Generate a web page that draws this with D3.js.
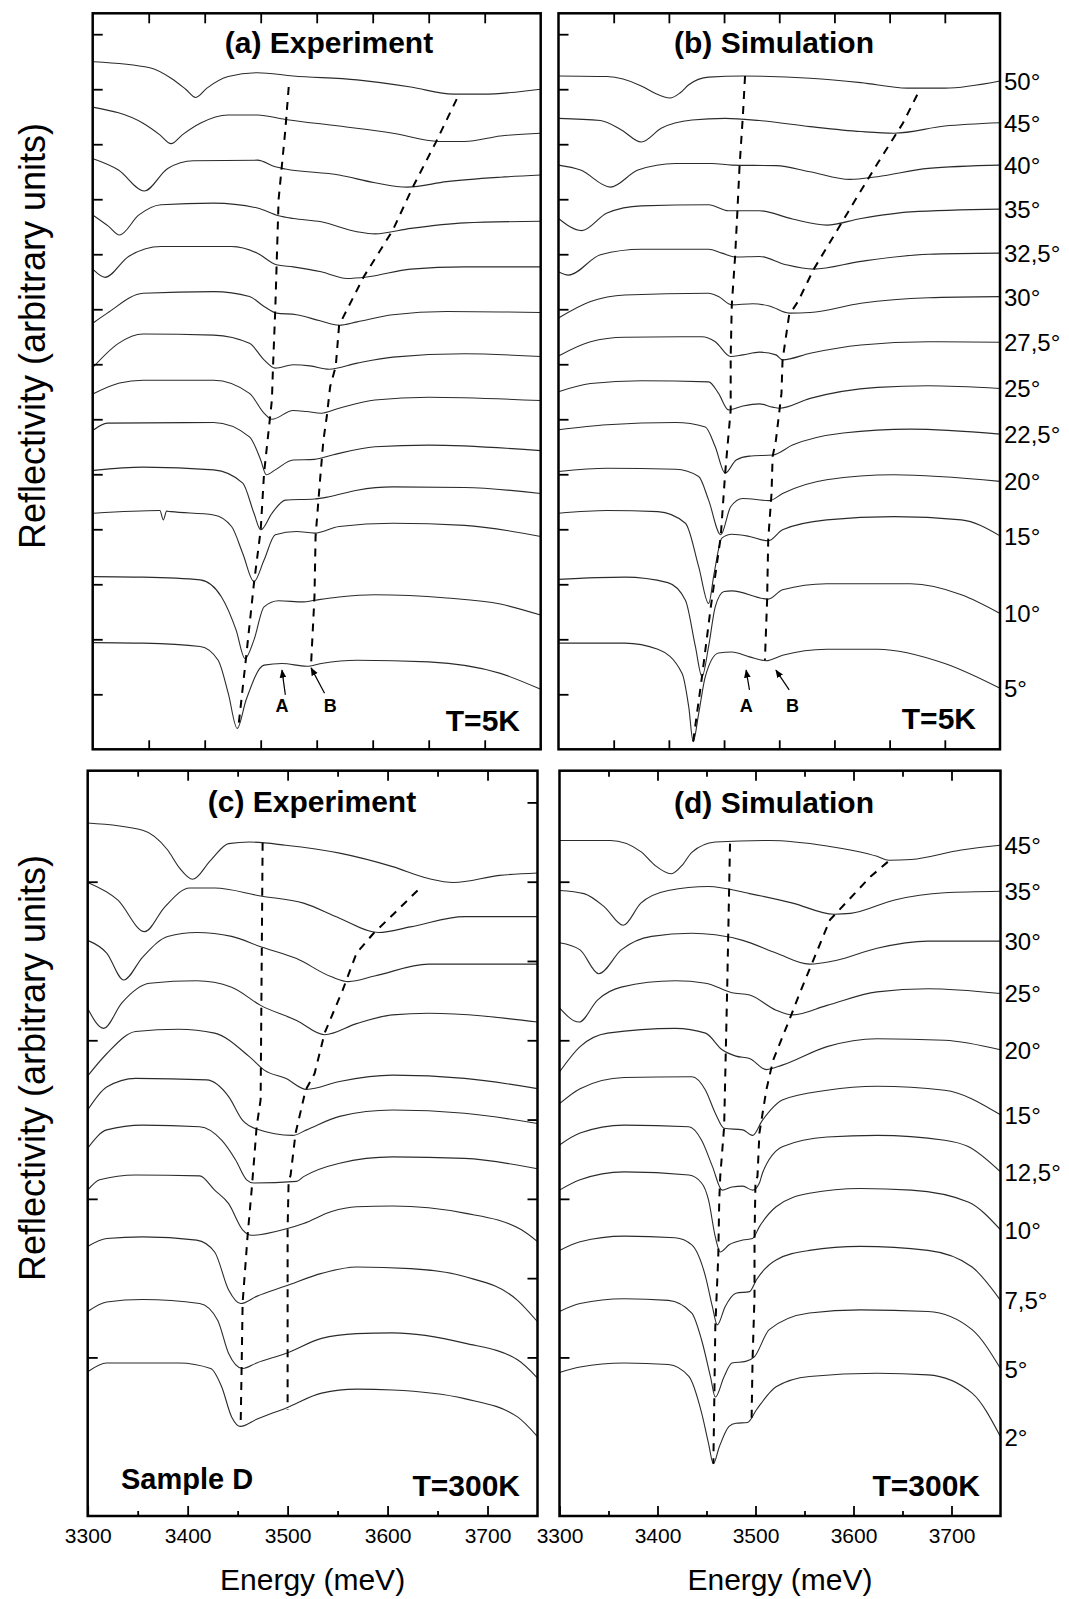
<!DOCTYPE html>
<html>
<head>
<meta charset="utf-8">
<script src="https://cdn.jsdelivr.net/npm/d3@7"></script>
<style>
  body { margin: 0; background: #fff; }
  svg { display: block; font-family: "Liberation Sans", Arial, sans-serif; }
</style>
</head>
<body>
<div id="chart"></div>
<script>
// ---- data: energy (meV), reflectivity (arb. units, curves offset) ----
const anglesTop = ['50°', '45°', '40°', '35°', '32,5°', '30°', '27,5°', '25°', '22,5°', '20°', '15°', '10°', '5°'];
const anglesBottom = ['45°', '35°', '30°', '25°', '20°', '15°', '12,5°', '10°', '7,5°', '5°', '2°'];
const ticksBottomX = [3300, 3400, 3500, 3600, 3700];

// (a) experiment, T = 5K
const spectraA = [
  [[3301,12.50],[3351,12.39],[3370,12.20],[3383,12.0],[3392,11.85],[3402,12.02],[3421,12.23],[3447,12.30],[3479,12.24],[3536,12.17],[3584,12.04],[3622,11.91],[3648,11.91],[3700,12.00]],
  [[3301,11.67],[3345,11.38],[3360,11.17],[3370,11.01],[3380,11.17],[3396,11.38],[3421,11.53],[3447,11.53],[3472,11.45],[3520,11.33],[3568,11.20],[3609,11.05],[3632,11.05],[3664,11.15],[3700,11.20]],
  [[3301,10.73],[3323,10.53],[3346,10.15],[3367,10.56],[3390,10.70],[3447,10.71],[3463,10.59],[3472,10.55],[3520,10.44],[3552,10.30],[3581,10.22],[3616,10.32],[3664,10.40],[3700,10.44]],
  [[3301,9.70],[3314,9.51],[3324,9.35],[3341,9.71],[3361,9.90],[3408,9.93],[3447,9.84],[3466,9.70],[3479,9.65],[3504,9.59],[3536,9.41],[3552,9.37],[3584,9.47],[3632,9.57],[3700,9.60]],
  [[3301,8.71],[3311,8.58],[3332,8.96],[3361,9.14],[3424,9.14],[3447,9.02],[3464,8.81],[3479,8.77],[3504,8.68],[3527,8.56],[3546,8.59],[3584,8.73],[3632,8.77],[3700,8.77]],
  [[3301,7.76],[3313,7.93],[3345,8.29],[3408,8.32],[3440,8.23],[3453,8.05],[3464,7.93],[3482,7.90],[3503,7.79],[3520,7.71],[3536,7.77],[3568,7.90],[3616,7.96],[3700,7.94]],
  [[3301,6.96],[3323,7.38],[3345,7.55],[3408,7.53],[3440,7.38],[3453,7.08],[3463,6.93],[3479,6.99],[3494,6.97],[3511,6.91],[3536,7.02],[3568,7.13],[3632,7.19],[3700,7.14]],
  [[3301,6.47],[3324,6.66],[3345,6.71],[3408,6.71],[3440,6.47],[3453,6.11],[3460,6.00],[3479,6.16],[3491,6.14],[3504,6.11],[3520,6.20],[3552,6.35],[3600,6.40],[3700,6.34]],
  [[3301,5.81],[3313,5.93],[3408,5.94],[3440,5.68],[3450,5.26],[3455,4.99],[3463,5.08],[3479,5.26],[3498,5.27],[3514,5.35],[3552,5.50],[3600,5.53],[3700,5.43]],
  [[3301,5.07],[3345,5.13],[3408,5.08],[3434,4.84],[3444,4.29],[3450,3.99],[3460,4.29],[3472,4.53],[3498,4.55],[3511,4.59],[3536,4.71],[3568,4.77],[3632,4.76],[3700,4.65]],
  [[3301,4.29],[3360,4.34],[3363,4.17],[3366,4.33],[3370,4.32],[3408,4.26],[3424,4.05],[3434,3.56],[3444,3.05],[3453,3.44],[3463,3.90],[3482,3.96],[3498,3.93],[3520,4.05],[3568,4.11],[3632,4.07],[3700,3.87]],
  [[3301,3.14],[3345,3.13],[3396,3.08],[3415,2.77],[3428,2.17],[3436,1.65],[3444,1.99],[3453,2.59],[3466,2.70],[3488,2.68],[3498,2.71],[3520,2.77],[3552,2.81],[3616,2.75],[3664,2.64],[3700,2.44]],
  [[3301,1.94],[3345,1.93],[3396,1.87],[3412,1.62],[3421,1.02],[3429,0.38],[3437,0.90],[3453,1.53],[3469,1.56],[3491,1.51],[3504,1.56],[3536,1.62],[3600,1.59],[3664,1.38],[3700,1.09]]
];
const guidesA = [
  [[3475,12.04],[3472,11.26],[3466,10.0],[3463,7.99],[3461,6.96],[3460,6.35],[3453,5.02],[3450,3.99],[3444,3.02],[3437,1.68],[3430,0.39]],
  [[3625,11.82],[3606,11.02],[3586,10.23],[3568,9.44],[3542,8.59],[3520,7.71],[3517,6.96],[3512,6.59],[3509,6.05],[3506,5.62],[3503,4.90],[3499,3.87],[3498,2.77],[3495,1.56]]
];
const arrowsA = [
  { label: 'A', text: [3469, 0.68], from: [3472, 0.99], to: [3469, 1.44] },
  { label: 'B', text: [3512, 0.68], from: [3507, 1.02], to: [3495, 1.48] }
];

// (b) simulation, T = 5K
const spectraB = [
  [[3300,12.24],[3344,12.23],[3375,12.06],[3387,11.93],[3401,11.84],[3410,11.93],[3418,12.08],[3436,12.22],[3467,12.24],[3528,12.20],[3574,12.12],[3616,12.02],[3650,12.02],[3700,12.15]],
  [[3300,11.47],[3338,11.43],[3357,11.26],[3375,11.04],[3393,11.29],[3421,11.44],[3451,11.47],[3482,11.43],[3528,11.32],[3574,11.23],[3604,11.20],[3650,11.33],[3700,11.39]],
  [[3300,10.62],[3320,10.53],[3347,10.22],[3372,10.53],[3406,10.65],[3439,10.65],[3457,10.62],[3497,10.61],[3528,10.50],[3564,10.36],[3589,10.41],[3635,10.56],[3700,10.62]],
  [[3300,9.65],[3321,9.43],[3344,9.75],[3375,9.88],[3436,9.90],[3454,9.79],[3482,9.79],[3512,9.64],[3543,9.53],[3574,9.65],[3619,9.77],[3700,9.82]],
  [[3300,8.68],[3309,8.62],[3338,8.99],[3375,9.09],[3436,9.09],[3448,9.02],[3461,8.95],[3482,8.96],[3506,8.81],[3531,8.73],[3574,8.87],[3635,9.00],[3700,9.02]],
  [[3300,7.84],[3329,8.14],[3360,8.26],[3436,8.29],[3445,8.23],[3457,8.08],[3476,8.10],[3491,8.06],[3509,7.93],[3528,7.94],[3574,8.11],[3635,8.21],[3700,8.23]],
  [[3300,7.15],[3329,7.41],[3360,7.49],[3430,7.50],[3442,7.41],[3456,7.14],[3467,7.17],[3482,7.22],[3497,7.17],[3503,7.08],[3528,7.20],[3574,7.35],[3635,7.41],[3700,7.40]],
  [[3300,6.50],[3329,6.65],[3375,6.70],[3436,6.68],[3445,6.47],[3454,6.17],[3467,6.24],[3482,6.28],[3494,6.22],[3500,6.20],[3528,6.38],[3589,6.58],[3635,6.61],[3700,6.56]],
  [[3300,5.81],[3344,5.90],[3406,5.94],[3433,5.86],[3442,5.50],[3451,5.02],[3461,5.26],[3473,5.33],[3494,5.35],[3512,5.53],[3558,5.75],[3619,5.82],[3700,5.73]],
  [[3300,5.05],[3344,5.11],[3406,5.09],[3427,4.96],[3436,4.53],[3447,3.90],[3456,4.41],[3467,4.56],[3491,4.52],[3503,4.65],[3543,4.90],[3604,4.99],[3700,4.87]],
  [[3300,4.29],[3344,4.34],[3390,4.32],[3415,4.11],[3427,3.32],[3436,2.65],[3441,3.20],[3448,3.84],[3457,3.91],[3473,3.87],[3490,3.79],[3503,3.99],[3543,4.17],[3604,4.23],[3665,4.17],[3700,3.88]],
  [[3300,3.09],[3360,3.13],[3399,3.03],[3415,2.71],[3424,1.87],[3430,1.32],[3436,1.87],[3442,2.59],[3450,2.87],[3457,2.88],[3490,2.73],[3503,2.90],[3543,3.01],[3619,3.01],[3665,2.81],[3700,2.47]],
  [[3300,1.93],[3360,1.93],[3390,1.82],[3412,1.38],[3418,0.77],[3422,0.14],[3427,0.65],[3433,1.32],[3445,1.75],[3457,1.77],[3473,1.68],[3488,1.61],[3503,1.71],[3543,1.82],[3589,1.82],[3650,1.56],[3700,1.11]]
];
const guidesB = [
  [[3469,12.24],[3467,11.50],[3464,10.59],[3462,9.75],[3460,8.96],[3457,8.08],[3456,7.14],[3456,6.17],[3451,5.02],[3447,3.87],[3438,2.59],[3430,1.32],[3422,0.14]],
  [[3625,11.90],[3612,11.38],[3589,10.65],[3569,9.99],[3549,9.32],[3531,8.72],[3517,8.14],[3509,7.90],[3503,7.08],[3502,6.47],[3497,5.62],[3494,5.32],[3493,4.65],[3490,3.81],[3489,2.71],[3487,1.62]]
];
const arrowsB = [
  { label: 'A', text: [3470, 0.68], from: [3473, 1.08], to: [3470, 1.44] },
  { label: 'B', text: [3512, 0.68], from: [3509, 1.08], to: [3497, 1.44] }
];

// (c) experiment, T = 300K
const spectraC = [
  [[3300,8.74],[3355,8.65],[3380,8.40],[3392,8.17],[3405,8.03],[3423,8.27],[3441,8.48],[3462,8.50],[3498,8.46],[3552,8.36],[3605,8.19],[3641,8.04],[3666,7.99],[3712,8.08],[3750,8.11]],
  [[3300,7.99],[3330,7.77],[3357,7.37],[3377,7.68],[3402,7.92],[3427,7.92],[3473,7.82],[3516,7.73],[3552,7.54],[3591,7.36],[3623,7.43],[3677,7.56],[3750,7.56]],
  [[3300,7.26],[3319,7.10],[3336,6.76],[3355,7.05],[3380,7.31],[3409,7.36],[3444,7.31],[3473,7.18],[3509,7.03],[3544,6.80],[3561,6.74],[3587,6.81],[3641,6.96],[3750,6.96]],
  [[3300,6.40],[3316,6.15],[3334,6.47],[3362,6.72],[3409,6.75],[3444,6.67],[3473,6.44],[3509,6.25],[3537,6.07],[3569,6.21],[3605,6.32],[3641,6.34],[3750,6.23]],
  [[3300,5.55],[3319,5.83],[3348,6.11],[3391,6.14],[3427,6.09],[3462,5.79],[3477,5.62],[3498,5.52],[3519,5.38],[3552,5.48],[3605,5.56],[3677,5.52],[3750,5.39]],
  [[3300,5.12],[3319,5.41],[3348,5.52],[3419,5.50],[3441,5.29],[3455,4.99],[3469,4.88],[3505,4.80],[3519,4.87],[3552,5.04],[3605,5.12],[3677,5.08],[3750,4.95]],
  [[3300,4.64],[3319,4.87],[3355,4.93],[3412,4.91],[3434,4.74],[3448,4.49],[3459,4.24],[3466,4.20],[3509,4.22],[3516,4.28],[3552,4.45],[3605,4.53],[3677,4.51],[3750,4.38]],
  [[3300,4.11],[3312,4.24],[3348,4.30],[3412,4.29],[3427,4.11],[3441,3.94],[3455,3.61],[3464,3.54],[3498,3.62],[3516,3.69],[3544,3.84],[3569,3.90],[3605,3.91],[3677,3.82],[3734,3.61],[3750,3.46]],
  [[3300,3.40],[3319,3.50],[3355,3.52],[3409,3.48],[3427,3.33],[3441,2.85],[3453,2.68],[3469,2.77],[3498,2.90],[3534,3.06],[3569,3.14],[3623,3.12],[3677,3.02],[3730,2.72],[3750,2.45]],
  [[3300,2.58],[3319,2.70],[3355,2.73],[3412,2.68],[3430,2.47],[3441,2.05],[3455,1.86],[3469,1.93],[3498,2.05],[3534,2.24],[3569,2.30],[3605,2.31],[3677,2.18],[3730,1.97],[3750,1.74]],
  [[3300,1.82],[3319,1.93],[3391,1.93],[3423,1.86],[3434,1.63],[3444,1.25],[3453,1.13],[3469,1.22],[3498,1.36],[3534,1.55],[3569,1.60],[3605,1.59],[3677,1.48],[3730,1.25],[3750,1.00]]
];
const guidesC = [
  [[3475,8.49],[3473,5.25],[3469,4.91],[3467,4.58],[3464,4.11],[3460,3.54],[3455,2.69],[3454,1.88],[3453,1.13]],
  [[3630,7.89],[3605,7.58],[3586,7.35],[3569,7.10],[3555,6.63],[3537,6.09],[3527,5.58],[3518,5.37],[3508,4.83],[3503,4.30],[3501,4.22],[3500,3.63],[3500,1.34]]
];

// (d) simulation, T = 300K
const spectraD = [
  [[3300,8.52],[3352,8.52],[3383,8.38],[3397,8.21],[3414,8.10],[3426,8.22],[3435,8.37],[3459,8.50],[3514,8.52],[3573,8.45],[3624,8.32],[3636,8.27],[3659,8.28],[3710,8.40],[3750,8.46]],
  [[3300,7.89],[3325,7.85],[3346,7.68],[3365,7.45],[3383,7.73],[3411,7.89],[3452,7.94],[3494,7.85],[3538,7.73],[3580,7.59],[3597,7.60],[3642,7.77],[3693,7.86],[3750,7.88]],
  [[3300,7.23],[3321,7.14],[3340,6.84],[3363,7.14],[3394,7.31],[3435,7.35],[3459,7.33],[3487,7.26],[3521,7.10],[3555,6.96],[3583,7.01],[3624,7.16],[3676,7.25],[3750,7.25]],
  [[3300,6.41],[3320,6.23],[3339,6.51],[3363,6.67],[3418,6.75],[3449,6.72],[3476,6.60],[3494,6.57],[3521,6.38],[3538,6.32],[3573,6.44],[3624,6.61],[3676,6.65],[3750,6.59]],
  [[3300,5.60],[3321,5.92],[3349,6.09],[3418,6.15],[3449,6.09],[3466,5.88],[3480,5.80],[3494,5.77],[3511,5.63],[3528,5.69],[3573,5.92],[3624,6.02],[3693,6.00],[3750,5.88]],
  [[3300,5.20],[3321,5.39],[3366,5.53],[3435,5.54],[3449,5.37],[3459,5.08],[3468,4.89],[3487,4.87],[3497,4.80],[3507,4.99],[3528,5.25],[3573,5.37],[3624,5.42],[3693,5.37],[3750,5.06]],
  [[3300,4.68],[3321,4.83],[3366,4.93],[3432,4.91],[3445,4.74],[3456,4.41],[3466,4.11],[3476,4.15],[3487,4.16],[3497,4.11],[3504,4.20],[3507,4.32],[3528,4.66],[3573,4.78],[3624,4.80],[3693,4.74],[3717,4.66],[3750,4.34]],
  [[3300,4.11],[3321,4.24],[3366,4.34],[3432,4.30],[3445,4.20],[3452,3.99],[3459,3.52],[3464,3.33],[3473,3.42],[3487,3.48],[3497,3.50],[3504,3.65],[3521,3.90],[3555,4.07],[3607,4.13],[3659,4.11],[3717,3.96],[3750,3.61]],
  [[3300,3.35],[3321,3.46],[3366,3.53],[3418,3.51],[3435,3.42],[3449,3.02],[3456,2.64],[3461,2.41],[3469,2.64],[3480,2.81],[3494,2.83],[3501,2.98],[3521,3.23],[3555,3.35],[3607,3.40],[3676,3.35],[3721,3.14],[3750,2.72]],
  [[3300,2.58],[3321,2.68],[3366,2.74],[3411,2.72],[3435,2.56],[3445,2.22],[3454,1.76],[3459,1.50],[3468,1.76],[3476,1.93],[3490,1.95],[3499,2.01],[3514,2.35],[3555,2.56],[3607,2.60],[3676,2.58],[3721,2.35],[3750,1.86]],
  [[3300,1.81],[3321,1.88],[3366,1.93],[3411,1.91],[3432,1.76],[3445,1.30],[3452,0.92],[3457,0.66],[3463,0.87],[3473,1.13],[3480,1.17],[3492,1.18],[3501,1.34],[3521,1.63],[3555,1.76],[3624,1.80],[3676,1.78],[3721,1.55],[3750,1.00]]
];
const guidesD = [
  [[3474,8.48],[3471,6.59],[3468,4.91],[3464,4.28],[3463,3.98],[3462,3.27],[3459,2.39],[3458,1.50],[3457,0.66]],
  [[3635,8.25],[3617,8.06],[3592,7.73],[3576,7.52],[3562,7.10],[3545,6.59],[3533,6.21],[3518,5.75],[3511,5.37],[3504,4.83],[3502,4.28],[3500,4.24],[3499,3.50],[3499,2.77],[3497,1.97],[3496,1.21]]
];

// ---- layout ----
const svg = d3.select('#chart').append('svg')
  .attr('width', 1069)
  .attr('height', 1599);

svg.append('defs').append('marker')
  .attr('id', 'arrow')
  .attr('viewBox', '0 0 10 10')
  .attr('refX', 9).attr('refY', 5)
  .attr('markerWidth', 7).attr('markerHeight', 7)
  .attr('orient', 'auto')
  .append('path')
  .attr('d', 'M0,1 L10,5 L0,9 z')
  .attr('fill', '#000');

const panels = [
  { left: 92.7, right: 540.7, top: 13.3, bottom: 749.3, xDom: [3300, 3700], yDom: [0, 13.38],
    spectra: spectraA, guides: guidesA, arrows: arrowsA, title: '(a) Experiment', titleX: 329, titleY: 53,
    temp: 'T=5K', tempX: 520, tempY: 731, yTicks: d3.range(1, 14) },
  { left: 558.5, right: 1000, top: 13.3, bottom: 749.3, xDom: [3300, 3700], yDom: [0, 13.38],
    spectra: spectraB, guides: guidesB, arrows: arrowsB, title: '(b) Simulation', titleX: 774, titleY: 53,
    temp: 'T=5K', tempX: 976, tempY: 729, yTicks: d3.range(1, 14), angles: anglesTop },
  { left: 87.7, right: 537.5, top: 770.7, bottom: 1516, xDom: [3300, 3750], yDom: [0, 9.4],
    spectra: spectraC, guides: guidesC, arrows: [], title: '(c) Experiment', titleX: 312, titleY: 812,
    temp: 'T=300K', tempX: 520, tempY: 1496, yTicks: [2, 4, 6, 8], rightTicks: d3.range(2, 10), labels: true, sample: true },
  { left: 559.5, right: 1000.5, top: 770.7, bottom: 1516, xDom: [3300, 3750], yDom: [0, 9.4],
    spectra: spectraD, guides: guidesD, arrows: [], title: '(d) Simulation', titleX: 774, titleY: 813,
    temp: 'T=300K', tempX: 980, tempY: 1496, yTicks: [2, 4, 6, 8], labels: true, angles: anglesBottom }
];

panels.forEach((p) => {
  const x = d3.scaleLinear().domain(p.xDom).range([p.left, p.right]);
  const y = d3.scaleLinear().domain(p.yDom).range([p.bottom, p.top]);
  const g = svg.append('g');

  // Spectra
  const line = d3.line()
    .x((d) => x(d[0]))
    .y((d) => y(d[1]))
    .curve(d3.curveMonotoneX);
  g.selectAll('.spec')
    .data(p.spectra)
    .enter()
    .append('path')
    .attr('class', 'spec')
    .attr('d', line)
    .attr('fill', 'none')
    .attr('stroke', '#2b2b2b')
    .attr('stroke-width', 1.1);

  // Dashed guide lines through the dips
  const guide = d3.line().x((d) => x(d[0])).y((d) => y(d[1]));
  g.selectAll('.guide')
    .data(p.guides)
    .enter()
    .append('path')
    .attr('class', 'guide')
    .attr('d', guide)
    .attr('fill', 'none')
    .attr('stroke', '#000')
    .attr('stroke-width', 2)
    .attr('stroke-dasharray', '8,7');

  // A / B arrows
  p.arrows.forEach((a) => {
    g.append('line')
      .attr('x1', x(a.from[0])).attr('y1', y(a.from[1]))
      .attr('x2', x(a.to[0])).attr('y2', y(a.to[1]))
      .attr('stroke', '#000').attr('stroke-width', 1.2)
      .attr('marker-end', 'url(#arrow)');
    g.append('text')
      .attr('x', x(a.text[0])).attr('y', y(a.text[1]))
      .attr('text-anchor', 'middle')
      .style('font-size', '18px')
      .style('font-weight', 'bold')
      .text(a.label);
  });

  // Axes, ticks pointing inward
  const tidy = (sel) => { sel.select('.domain').remove(); sel.selectAll('line').attr('stroke-width', 1.8); };
  if (p.labels) {
    g.append('g').attr('transform', `translate(0,${p.top})`)
      .call(d3.axisTop(x).tickValues([3400, 3500, 3600, 3700]).tickSizeInner(-10).tickSizeOuter(0).tickFormat(''))
      .call(tidy);
    g.append('g').attr('transform', `translate(0,${p.top})`)
      .call(d3.axisTop(x).tickValues([3350, 3450, 3550, 3650]).tickSizeInner(-6).tickSizeOuter(0).tickFormat(''))
      .call(tidy);
    const bx = g.append('g').attr('transform', `translate(0,${p.bottom})`)
      .call(d3.axisBottom(x).tickValues(ticksBottomX).tickSizeInner(-10).tickSizeOuter(0).tickPadding(12).tickFormat(d3.format('d')))
      .call(tidy);
    bx.selectAll('text')
      .attr('font-family', '"Liberation Sans", Arial, sans-serif')
      .attr('font-size', 21)
      .attr('fill', '#000');
    g.append('g').attr('transform', `translate(0,${p.bottom})`)
      .call(d3.axisBottom(x).tickValues([3350, 3450, 3550, 3650]).tickSizeInner(-5).tickSizeOuter(0).tickFormat(''))
      .call(tidy);
  } else {
    const minor = d3.range(3350, 3700, 50);
    g.append('g').attr('transform', `translate(0,${p.top})`)
      .call(d3.axisTop(x).tickValues(minor).tickSizeInner(-10).tickSizeOuter(0).tickFormat(''))
      .call(tidy);
    g.append('g').attr('transform', `translate(0,${p.bottom})`)
      .call(d3.axisBottom(x).tickValues(minor).tickSizeInner(-9).tickSizeOuter(0).tickFormat(''))
      .call(tidy);
  }
  g.append('g').attr('transform', `translate(${p.left},0)`)
    .call(d3.axisLeft(y).tickValues(p.yTicks).tickSizeInner(-10).tickSizeOuter(0).tickFormat(''))
    .call(tidy);
  if (p.rightTicks) {
    g.append('g').attr('transform', `translate(${p.right},0)`)
      .call(d3.axisRight(y).tickValues(p.rightTicks).tickSizeInner(-10).tickSizeOuter(0).tickFormat(''))
      .call(tidy);
  }

  // Frame
  g.append('rect')
    .attr('x', p.left).attr('y', p.top)
    .attr('width', p.right - p.left).attr('height', p.bottom - p.top)
    .attr('fill', 'none')
    .attr('stroke', '#000')
    .attr('stroke-width', 2.5);

  // Title and temperature
  g.append('text')
    .attr('x', p.titleX).attr('y', p.titleY)
    .attr('text-anchor', 'middle')
    .style('font-size', '30px')
    .style('font-weight', 'bold')
    .text(p.title);
  g.append('text')
    .attr('x', p.tempX).attr('y', p.tempY)
    .attr('text-anchor', 'end')
    .style('font-size', '30px')
    .style('font-weight', 'bold')
    .text(p.temp);
  if (p.sample) {
    g.append('text')
      .attr('x', 121).attr('y', 1489)
      .style('font-size', '29px')
      .style('font-weight', 'bold')
      .text('Sample D');
  }

  // Angle labels at the right end of each curve
  if (p.angles) {
    g.selectAll('.angle')
      .data(p.spectra)
      .enter()
      .append('text')
      .attr('class', 'angle')
      .attr('x', p.right + 4)
      .attr('y', (d) => y(d[d.length - 1][1]) + 9)
      .style('font-size', '24px')
      .text((d, i) => p.angles[i]);
  }
});

// Axis titles
[336, 1068].forEach((cy) => {
  svg.append('text')
    .attr('transform', `translate(45,${cy}) rotate(-90)`)
    .attr('text-anchor', 'middle')
    .style('font-size', '36px')
    .text('Reflectivity (arbitrary units)');
});
[312.6, 780].forEach((cx) => {
  svg.append('text')
    .attr('x', cx).attr('y', 1590)
    .attr('text-anchor', 'middle')
    .style('font-size', '30px')
    .text('Energy (meV)');
});
</script>
</body>
</html>
